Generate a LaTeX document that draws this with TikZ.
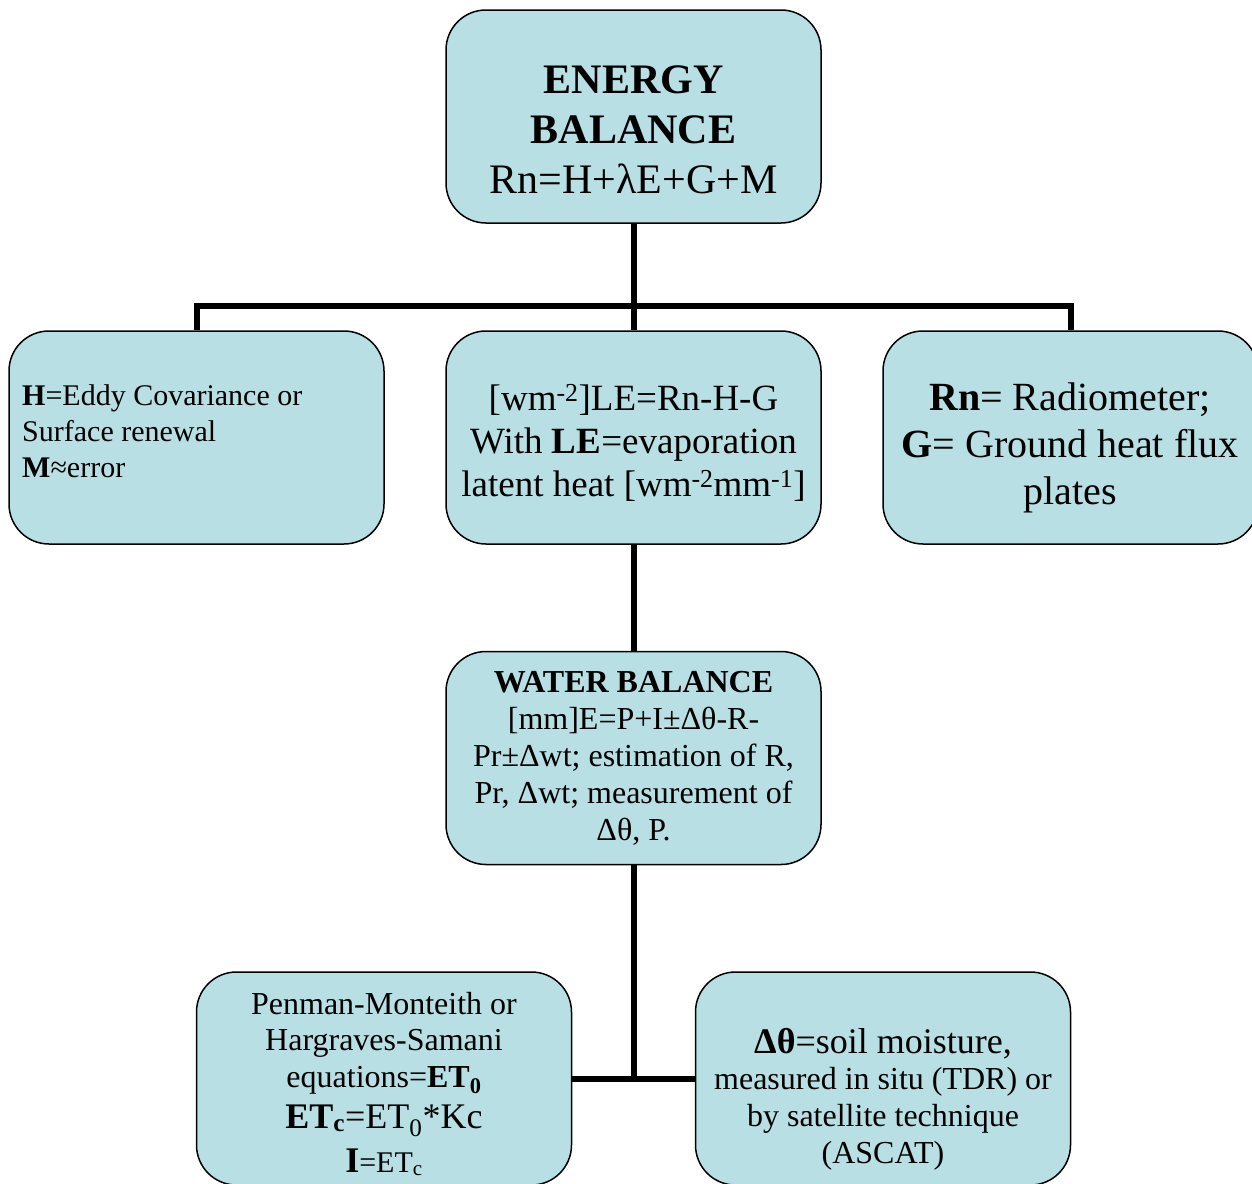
\documentclass[tikz,border=0pt]{standalone}
\usepackage{fontspec}
\setmainfont{Liberation Serif}
\definecolor{boxfill}{RGB}{184,223,227}
\newcommand{\fs}[2]{\fontsize{#1}{#2}\selectfont}
\begin{document}
\begin{tikzpicture}[x=1pt,y=-1pt,
  box/.style={draw=black,line width=1.5pt,fill=boxfill,rounded corners=40pt,
    minimum width=375pt,minimum height=213pt,inner sep=0pt},
  txt/.style={inner sep=0pt,align=center},
  conn/.style={line width=6pt,draw=black}]
\useasboundingbox (0,0) rectangle (1252,1183);

% boxes
\node[box] (top)   at (633.5,116.5) {};
\node[box] (left)  at (196.5,437.5) {};
\node[box] (mid)   at (633.5,437.5) {};
\node[box] (right) at (1070.5,437.5) {};
\node[box] (water) at (633.5,758) {};
\node[box] (bl)    at (384,1078.5) {};
\node[box] (br)    at (883,1078.5) {};

% connectors
\coordinate (j1) at (633.5,306);
\draw[conn] (top.south) -- (mid.north);
\draw[conn] (left.north) |- (j1) -| (right.north);
\draw[conn] (mid.south) -- (water.north);
\draw[conn] (water.south) -- (water.south |- bl.east);
\draw[conn] (bl.east) -- (br.west);

% texts
\node[txt,font=\fs{42}{50}] (ttop) at (633.5,130)
  {\textbf{ENERGY}\\\textbf{BALANCE}\\Rn=H+λE+G+M};
\node[txt,align=left,anchor=west,font=\fs{30}{36}] (tleft) at (22,431)
  {\textbf{H}=Eddy Covariance or\\Surface renewal\\\textbf{M}≈error};
\node[txt,font=\fs{37}{43}] (tmid) at (633.5,443)
  {[wm\textsuperscript{-2}]LE=Rn-H-G\\With \textbf{LE}=evaporation\\latent heat [wm\textsuperscript{-2}mm\textsuperscript{-1}]};
\node[txt,font=\fs{40}{47}] (tright) at (1070,448)
  {\textbf{Rn}= Radiometer;\\\textbf{G}= Ground heat flux\\plates};
\node[txt,font=\fs{32}{37}] (twater) at (633.5,758)
  {\textbf{WATER BALANCE}\\{}[mm]E=P+I±Δθ-R-\\Pr±Δwt; estimation of R,\\Pr, Δwt; measurement of\\Δθ, P.};

\node[txt,anchor=base,font=\fs{32}{37}] (bl1) at (384,1014) {Penman-Monteith or};
\node[txt,anchor=base,font=\fs{32}{37}] (bl2) at (384,1050) {Hargraves-Samani};
\node[txt,anchor=base,font=\fs{32}{37}] (bl3) at (384,1087) {equations=\textbf{ET\textsubscript{0}}};
\node[txt,anchor=base,font=\fs{36}{40}] (bl4) at (384,1128) {\textbf{ET\textsubscript{c}}=ET\textsubscript{0}*Kc};
\node[txt,anchor=base] (bl5) at (384,1172) {{\fs{36}{40}\textbf{I}}{\fs{30}{36}=ET\textsubscript{c}}};

\node[txt,anchor=base,font=\fs{36}{40}] (br1) at (883,1053) {\textbf{Δθ}=soil moisture,};
\node[txt,anchor=base,font=\fs{32}{37}] (br2) at (883,1089) {measured in situ (TDR) or};
\node[txt,anchor=base,font=\fs{32}{37}] (br3) at (883,1126) {by satellite technique};
\node[txt,anchor=base,font=\fs{32}{37}] (br4) at (883,1163) {(ASCAT)};
\end{tikzpicture}
\end{document}
